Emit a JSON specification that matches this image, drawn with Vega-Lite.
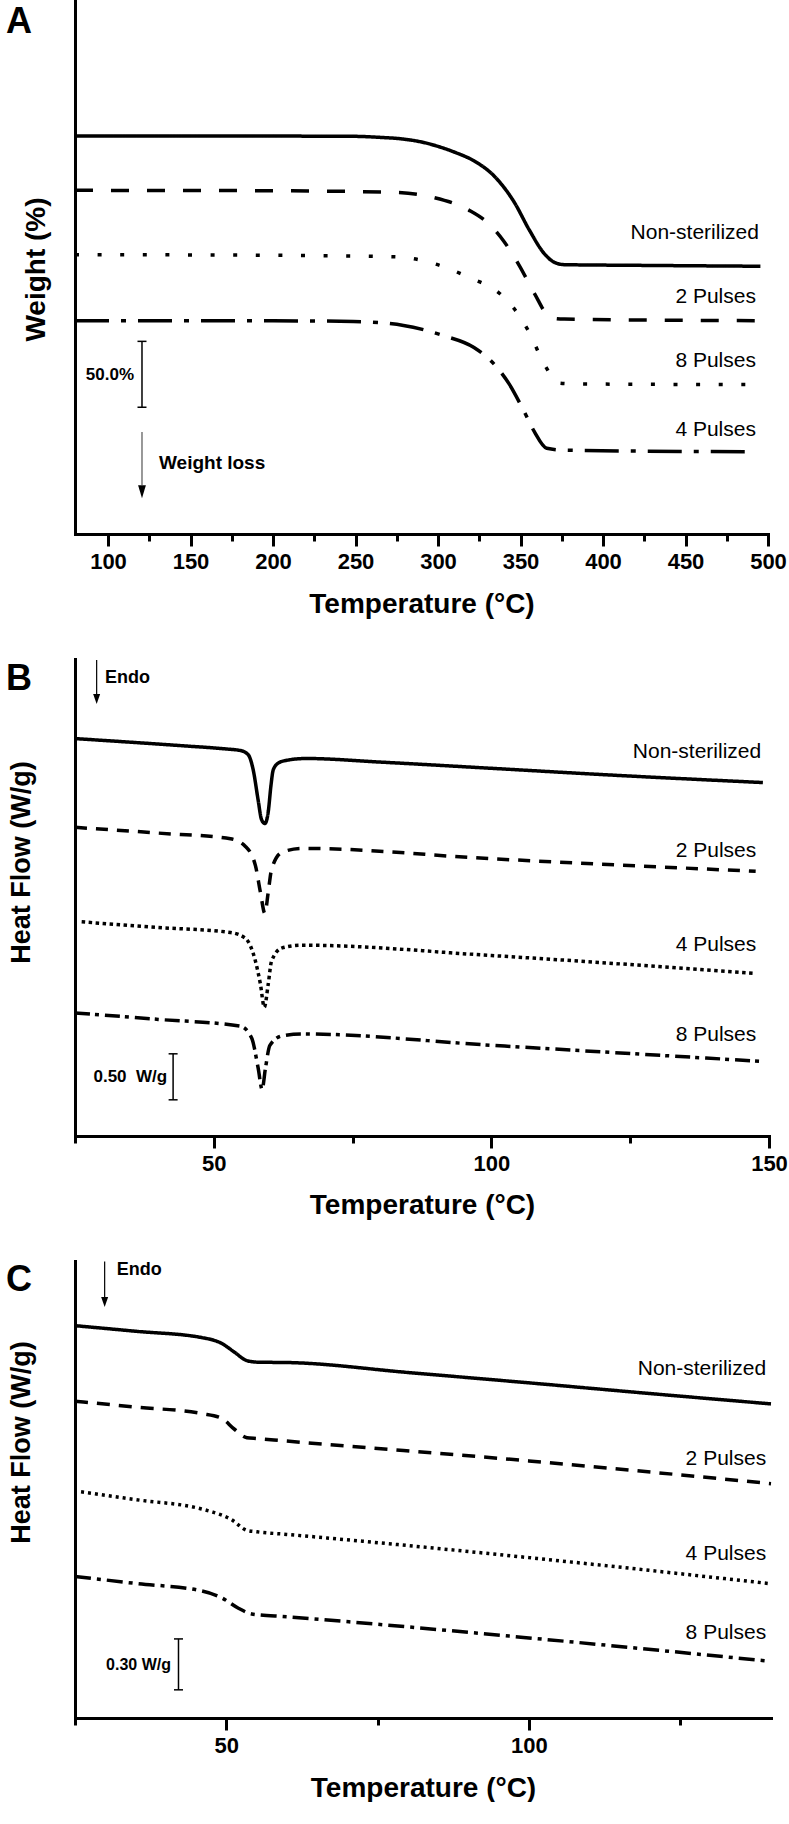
{
  "$schema": "https://vega.github.io/schema/vega-lite/v6.json",
  "padding": {"left": 6, "top": 1, "right": 0, "bottom": 0},
  "spacing": 41,
  "resolve": {"scale": {"strokeDash": "independent"}},
  "config": {
    "font": "Liberation Sans",
    "view": {"stroke": null},
    "axis": {"grid": false, "domainColor": "black", "tickColor": "black", "labelColor": "black", "titleColor": "black", "domainWidth": 3, "tickWidth": 3, "labelFontWeight": "bold", "labelFontSize": 22, "titleFontWeight": "bold", "titleFontSize": 28, "labelFlush": false, "labelOverlap": false, "labelBound": false, "domainCap": "square"}
  },
  "vconcat": [
    {
      "width": 693, "height": 533,
      "resolve": {"axis": {"x": "independent", "y": "independent"}},
      "layer": [
        {
          "data": {"values": [
            {"s": "Non-sterilized", "t": 80, "w": 302.1}, {"s": "Non-sterilized", "t": 150, "w": 302.1}, {"s": "Non-sterilized", "t": 200, "w": 302.0}, {"s": "Non-sterilized", "t": 248.7, "w": 301.8}, {"s": "Non-sterilized", "t": 265, "w": 301.0}, {"s": "Non-sterilized", "t": 279.1, "w": 299.7}, {"s": "Non-sterilized", "t": 290, "w": 297.5}, {"s": "Non-sterilized", "t": 300.4, "w": 294.0}, {"s": "Non-sterilized", "t": 311, "w": 289.3}, {"s": "Non-sterilized", "t": 321.8, "w": 283.2}, {"s": "Non-sterilized", "t": 334, "w": 271.7}, {"s": "Non-sterilized", "t": 346.2, "w": 251.8}, {"s": "Non-sterilized", "t": 355.3, "w": 230.8}, {"s": "Non-sterilized", "t": 364.4, "w": 212.8}, {"s": "Non-sterilized", "t": 370.5, "w": 206.2}, {"s": "Non-sterilized", "t": 376.6, "w": 204.4}, {"s": "Non-sterilized", "t": 420, "w": 203.9}, {"s": "Non-sterilized", "t": 495.4, "w": 203.2},
            {"s": "2 Pulses", "t": 80, "w": 260.8}, {"s": "2 Pulses", "t": 200, "w": 260.5}, {"s": "2 Pulses", "t": 273, "w": 259.3}, {"s": "2 Pulses", "t": 297.4, "w": 255.4}, {"s": "2 Pulses", "t": 318.7, "w": 245.8}, {"s": "2 Pulses", "t": 330.9, "w": 235.3}, {"s": "2 Pulses", "t": 340.1, "w": 221.8}, {"s": "2 Pulses", "t": 349.2, "w": 203.9}, {"s": "2 Pulses", "t": 358.3, "w": 182.9}, {"s": "2 Pulses", "t": 367.5, "w": 164.9}, {"s": "2 Pulses", "t": 372, "w": 163.4}, {"s": "2 Pulses", "t": 376.6, "w": 163.1}, {"s": "2 Pulses", "t": 495.4, "w": 161.9},
            {"s": "8 Pulses", "t": 80, "w": 212.0}, {"s": "8 Pulses", "t": 200, "w": 211.5}, {"s": "8 Pulses", "t": 273, "w": 210.4}, {"s": "8 Pulses", "t": 297.4, "w": 205.3}, {"s": "8 Pulses", "t": 318.7, "w": 194.8}, {"s": "8 Pulses", "t": 337, "w": 182.9}, {"s": "8 Pulses", "t": 346.2, "w": 170.9}, {"s": "8 Pulses", "t": 355.3, "w": 152.9}, {"s": "8 Pulses", "t": 364.4, "w": 128.9}, {"s": "8 Pulses", "t": 373.5, "w": 114.5}, {"s": "8 Pulses", "t": 382.7, "w": 113.9}, {"s": "8 Pulses", "t": 493.9, "w": 113.4},
            {"s": "4 Pulses", "t": 80, "w": 161.9}, {"s": "4 Pulses", "t": 200, "w": 161.8}, {"s": "4 Pulses", "t": 248.7, "w": 161.3}, {"s": "4 Pulses", "t": 279.1, "w": 158.3}, {"s": "4 Pulses", "t": 303.4, "w": 150.5}, {"s": "4 Pulses", "t": 321.8, "w": 141.5}, {"s": "4 Pulses", "t": 334, "w": 128.9}, {"s": "4 Pulses", "t": 343.1, "w": 113.9}, {"s": "4 Pulses", "t": 352.2, "w": 93.0}, {"s": "4 Pulses", "t": 358.3, "w": 77.9}, {"s": "4 Pulses", "t": 365.9, "w": 65.1}, {"s": "4 Pulses", "t": 376.6, "w": 63.6}, {"s": "4 Pulses", "t": 489.3, "w": 62.4}
          ]},
          "mark": {"type": "line", "interpolate": "monotone", "color": "black", "strokeWidth": 3.5},
          "encoding": {
            "x": {"field": "t", "type": "quantitative", "scale": {"domain": [80, 500], "nice": false, "zero": false},
                  "axis": {"orient": "bottom", "values": [100, 150, 200, 250, 300, 350, 400, 450, 500], "tickSize": 12, "labelPadding": 5, "title": "Temperature (°C)", "titlePadding": 18}},
            "y": {"field": "w", "type": "quantitative", "scale": {"domain": [0, 404.5], "nice": false, "zero": false},
                  "axis": {"orient": "left", "title": "Weight (%)", "ticks": false, "labels": false, "titleFontSize": 28, "titleX": -25, "titleY": 268, "titleAngle": 270, "titleAlign": "center", "titleBaseline": "bottom"}},
            "detail": {"field": "s"},
            "strokeDash": {"field": "s", "type": "nominal", "legend": null, "scale": {"domain": ["Non-sterilized", "2 Pulses", "8 Pulses", "4 Pulses"], "range": [[1, 0], [18, 18], [4, 18.6], [34, 12, 5, 12]]}}
          }
        },
        {
          "data": {"values": [
            {"label": "Non-sterilized", "t": 494.5, "w": 228.4},
            {"label": "2 Pulses", "t": 492.7, "w": 179.9},
            {"label": "8 Pulses", "t": 492.7, "w": 131.3},
            {"label": "4 Pulses", "t": 492.7, "w": 78.9}
          ]},
          "mark": {"type": "text", "align": "right", "baseline": "middle", "fontSize": 21, "color": "black"},
          "encoding": {
            "x": {"field": "t", "type": "quantitative", "axis": {"orient": "bottom", "values": [125, 175, 225, 275, 325, 375, 425, 475], "tickSize": 7, "labels": false, "domain": false, "title": null}},
            "y": {"field": "w", "type": "quantitative", "axis": null},
            "text": {"field": "label"}
          }
        },
        {
          "data": {"values": [{"label": "A", "t": 80, "w": 404.5}]},
          "mark": {"type": "text", "align": "left", "baseline": "alphabetic", "dx": -69, "dy": 32, "fontSize": 36, "fontWeight": "bold", "color": "black"},
          "encoding": {"x": {"field": "t", "type": "quantitative", "axis": null}, "y": {"field": "w", "type": "quantitative", "axis": null}, "text": {"field": "label"}}
        },
        {
          "data": {"values": [{"t": 120.6, "lo": 96.2, "hi": 146.2}]},
          "mark": {"type": "rule", "color": "black", "strokeWidth": 1.5},
          "encoding": {"x": {"field": "t", "type": "quantitative", "axis": null}, "y": {"field": "lo", "type": "quantitative", "axis": null}, "y2": {"field": "hi"}}
        },
        {
          "data": {"values": [{"t": 120.6, "w": 96.2}, {"t": 120.6, "w": 146.2}]},
          "mark": {"type": "tick", "orient": "horizontal", "size": 9, "thickness": 1.5, "color": "black", "opacity": 1},
          "encoding": {"x": {"field": "t", "type": "quantitative", "axis": null}, "y": {"field": "w", "type": "quantitative", "axis": null}}
        },
        {
          "data": {"values": [{"t": 120.6, "lo": 37.2, "hi": 77.4}]},
          "mark": {"type": "rule", "color": "#777777", "strokeWidth": 1.5},
          "encoding": {"x": {"field": "t", "type": "quantitative", "axis": null}, "y": {"field": "lo", "type": "quantitative", "axis": null}, "y2": {"field": "hi"}}
        },
        {
          "data": {"values": [{"t": 120.6, "w": 32.1}]},
          "mark": {"type": "point", "shape": "M-0.6,-1L0.6,-1L0,1Z", "filled": true, "color": "black", "opacity": 1, "size": 169},
          "encoding": {"x": {"field": "t", "type": "quantitative", "axis": null}, "y": {"field": "w", "type": "quantitative", "axis": null}}
        },
        {
          "data": {"values": [{"label": "50.0%", "t": 115.8, "w": 120.7}]},
          "mark": {"type": "text", "align": "right", "baseline": "middle", "fontSize": 17, "fontWeight": "bold", "color": "black"},
          "encoding": {"x": {"field": "t", "type": "quantitative", "axis": null}, "y": {"field": "w", "type": "quantitative", "axis": null}, "text": {"field": "label"}}
        },
        {
          "data": {"values": [{"label": "Weight loss", "t": 130.9, "w": 53.9}]},
          "mark": {"type": "text", "align": "left", "baseline": "middle", "fontSize": 19, "fontWeight": "bold", "color": "black"},
          "encoding": {"x": {"field": "t", "type": "quantitative", "axis": null}, "y": {"field": "w", "type": "quantitative", "axis": null}, "text": {"field": "label"}}
        }
      ]
    },
    {
      "width": 694, "height": 477,
      "resolve": {"axis": {"x": "independent", "y": "independent"}},
      "layer": [
        {
          "data": {"values": [
            {"s": "Non-sterilized", "t": 25, "h": 4.294}, {"s": "Non-sterilized", "t": 35, "h": 4.255}, {"s": "Non-sterilized", "t": 45, "h": 4.214}, {"s": "Non-sterilized", "t": 52, "h": 4.183}, {"s": "Non-sterilized", "t": 54.8, "h": 4.165}, {"s": "Non-sterilized", "t": 56.2, "h": 4.12}, {"s": "Non-sterilized", "t": 57.1, "h": 3.955}, {"s": "Non-sterilized", "t": 58.0, "h": 3.624}, {"s": "Non-sterilized", "t": 58.6, "h": 3.418}, {"s": "Non-sterilized", "t": 59.2, "h": 3.376}, {"s": "Non-sterilized", "t": 59.8, "h": 3.5}, {"s": "Non-sterilized", "t": 60.3, "h": 3.789}, {"s": "Non-sterilized", "t": 60.7, "h": 3.955}, {"s": "Non-sterilized", "t": 61.6, "h": 4.029}, {"s": "Non-sterilized", "t": 63, "h": 4.058}, {"s": "Non-sterilized", "t": 66.6, "h": 4.079}, {"s": "Non-sterilized", "t": 80, "h": 4.04}, {"s": "Non-sterilized", "t": 100, "h": 3.973}, {"s": "Non-sterilized", "t": 120, "h": 3.905}, {"s": "Non-sterilized", "t": 148.9, "h": 3.819},
            {"s": "2 Pulses", "t": 25, "h": 3.335}, {"s": "2 Pulses", "t": 40, "h": 3.273}, {"s": "2 Pulses", "t": 53, "h": 3.211}, {"s": "2 Pulses", "t": 55.7, "h": 3.129}, {"s": "2 Pulses", "t": 57.5, "h": 2.921}, {"s": "2 Pulses", "t": 58.4, "h": 2.633}, {"s": "2 Pulses", "t": 59.2, "h": 2.405}, {"s": "2 Pulses", "t": 59.8, "h": 2.633}, {"s": "2 Pulses", "t": 60.4, "h": 2.88}, {"s": "2 Pulses", "t": 62.3, "h": 3.066}, {"s": "2 Pulses", "t": 65.9, "h": 3.108}, {"s": "2 Pulses", "t": 100, "h": 2.996}, {"s": "2 Pulses", "t": 147.6, "h": 2.86},
            {"s": "4 Pulses", "t": 26.2, "h": 2.314}, {"s": "4 Pulses", "t": 40, "h": 2.253}, {"s": "4 Pulses", "t": 53, "h": 2.199}, {"s": "4 Pulses", "t": 55.7, "h": 2.136}, {"s": "4 Pulses", "t": 57.5, "h": 1.889}, {"s": "4 Pulses", "t": 58.4, "h": 1.64}, {"s": "4 Pulses", "t": 59.1, "h": 1.392}, {"s": "4 Pulses", "t": 59.8, "h": 1.64}, {"s": "4 Pulses", "t": 60.4, "h": 1.889}, {"s": "4 Pulses", "t": 62.3, "h": 2.033}, {"s": "4 Pulses", "t": 65.9, "h": 2.062}, {"s": "4 Pulses", "t": 100, "h": 1.95}, {"s": "4 Pulses", "t": 147.6, "h": 1.756},
            {"s": "8 Pulses", "t": 25, "h": 1.33}, {"s": "8 Pulses", "t": 40, "h": 1.26}, {"s": "8 Pulses", "t": 54.8, "h": 1.186}, {"s": "8 Pulses", "t": 56.8, "h": 1.062}, {"s": "8 Pulses", "t": 58.0, "h": 0.731}, {"s": "8 Pulses", "t": 58.7, "h": 0.504}, {"s": "8 Pulses", "t": 59.3, "h": 0.731}, {"s": "8 Pulses", "t": 60.1, "h": 0.979}, {"s": "8 Pulses", "t": 62.3, "h": 1.082}, {"s": "8 Pulses", "t": 65.9, "h": 1.103}, {"s": "8 Pulses", "t": 100, "h": 0.98}, {"s": "8 Pulses", "t": 148.9, "h": 0.806}
          ]},
          "mark": {"type": "line", "interpolate": "monotone", "color": "black", "strokeWidth": 3.5},
          "encoding": {
            "x": {"field": "t", "type": "quantitative", "scale": {"domain": [25, 150], "nice": false, "zero": false},
                  "axis": {"orient": "bottom", "values": [50, 100, 150], "tickSize": 12, "labelPadding": 5, "title": "Temperature (°C)", "titlePadding": 17}},
            "y": {"field": "h", "type": "quantitative", "scale": {"domain": [0, 5.154], "nice": false, "zero": false},
                  "axis": {"orient": "left", "title": "Heat Flow (W/g)", "ticks": false, "labels": false, "titleFontSize": 27, "titleX": -40, "titleY": 203, "titleAngle": 270, "titleAlign": "center", "titleBaseline": "bottom"}},
            "detail": {"field": "s"},
            "strokeDash": {"field": "s", "type": "nominal", "legend": null, "scale": {"domain": ["Non-sterilized", "2 Pulses", "4 Pulses", "8 Pulses"], "range": [[1, 0], [12, 9], [3.5, 3.5], [15, 5, 4, 6]]}}
          }
        },
        {
          "data": {"values": [
            {"label": "Non-sterilized", "t": 148.6, "h": 4.153},
            {"label": "2 Pulses", "t": 147.7, "h": 3.079},
            {"label": "4 Pulses", "t": 147.7, "h": 2.062},
            {"label": "8 Pulses", "t": 147.7, "h": 1.091}
          ]},
          "mark": {"type": "text", "align": "right", "baseline": "middle", "fontSize": 21, "color": "black"},
          "encoding": {
            "x": {"field": "t", "type": "quantitative", "axis": {"orient": "bottom", "values": [25, 75, 125], "tickSize": 7, "labels": false, "domain": false, "title": null}},
            "y": {"field": "h", "type": "quantitative", "axis": null},
            "text": {"field": "label"}
          }
        },
        {
          "data": {"values": [{"label": "B", "t": 25, "h": 5.154}]},
          "mark": {"type": "text", "align": "left", "baseline": "alphabetic", "dx": -69, "dy": 31, "fontSize": 36, "fontWeight": "bold", "color": "black"},
          "encoding": {"x": {"field": "t", "type": "quantitative", "axis": null}, "y": {"field": "h", "type": "quantitative", "axis": null}, "text": {"field": "label"}}
        },
        {
          "data": {"values": [{"t": 28.9, "lo": 4.776, "hi": 5.144}]},
          "mark": {"type": "rule", "color": "black", "strokeWidth": 1.2},
          "encoding": {"x": {"field": "t", "type": "quantitative", "axis": null}, "y": {"field": "lo", "type": "quantitative", "axis": null}, "y2": {"field": "hi"}}
        },
        {
          "data": {"values": [{"t": 28.9, "h": 4.722}]},
          "mark": {"type": "point", "shape": "M-0.7,-1L0.7,-1L0,1Z", "filled": true, "color": "black", "opacity": 1, "size": 100},
          "encoding": {"x": {"field": "t", "type": "quantitative", "axis": null}, "y": {"field": "h", "type": "quantitative", "axis": null}}
        },
        {
          "data": {"values": [{"label": "Endo", "t": 30.4, "h": 4.944}]},
          "mark": {"type": "text", "align": "left", "baseline": "middle", "fontSize": 18, "fontWeight": "bold", "color": "black"},
          "encoding": {"x": {"field": "t", "type": "quantitative", "axis": null}, "y": {"field": "h", "type": "quantitative", "axis": null}, "text": {"field": "label"}}
        },
        {
          "data": {"values": [{"t": 42.67, "lo": 0.391, "hi": 0.888}]},
          "mark": {"type": "rule", "color": "black", "strokeWidth": 1.5},
          "encoding": {"x": {"field": "t", "type": "quantitative", "axis": null}, "y": {"field": "lo", "type": "quantitative", "axis": null}, "y2": {"field": "hi"}}
        },
        {
          "data": {"values": [{"t": 42.67, "h": 0.391}, {"t": 42.67, "h": 0.888}]},
          "mark": {"type": "tick", "orient": "horizontal", "size": 9, "thickness": 1.5, "color": "black", "opacity": 1},
          "encoding": {"x": {"field": "t", "type": "quantitative", "axis": null}, "y": {"field": "h", "type": "quantitative", "axis": null}}
        },
        {
          "data": {"values": [{"label": "0.50\u00a0 W/g", "t": 41.6, "h": 0.633}]},
          "mark": {"type": "text", "align": "right", "baseline": "middle", "fontSize": 17, "fontWeight": "bold", "color": "black"},
          "encoding": {"x": {"field": "t", "type": "quantitative", "axis": null}, "y": {"field": "h", "type": "quantitative", "axis": null}, "text": {"field": "label"}}
        }
      ]
    },
    {
      "width": 696, "height": 457,
      "resolve": {"axis": {"x": "independent", "y": "independent"}},
      "layer": [
        {
          "data": {"values": [
            {"s": "Non-sterilized", "t": 25, "h": 2.312}, {"s": "Non-sterilized", "t": 35, "h": 2.279}, {"s": "Non-sterilized", "t": 45.9, "h": 2.242}, {"s": "Non-sterilized", "t": 49.2, "h": 2.208}, {"s": "Non-sterilized", "t": 51.3, "h": 2.157}, {"s": "Non-sterilized", "t": 53.4, "h": 2.106}, {"s": "Non-sterilized", "t": 55.1, "h": 2.097}, {"s": "Non-sterilized", "t": 60.9, "h": 2.094}, {"s": "Non-sterilized", "t": 80, "h": 2.036}, {"s": "Non-sterilized", "t": 100, "h": 1.975}, {"s": "Non-sterilized", "t": 120, "h": 1.912}, {"s": "Non-sterilized", "t": 140, "h": 1.851},
            {"s": "2 Pulses", "t": 25, "h": 1.867}, {"s": "2 Pulses", "t": 35, "h": 1.832}, {"s": "2 Pulses", "t": 45.9, "h": 1.794}, {"s": "2 Pulses", "t": 49.2, "h": 1.767}, {"s": "2 Pulses", "t": 51.3, "h": 1.703}, {"s": "2 Pulses", "t": 53.4, "h": 1.652}, {"s": "2 Pulses", "t": 55.1, "h": 1.647}, {"s": "2 Pulses", "t": 60, "h": 1.632}, {"s": "2 Pulses", "t": 100, "h": 1.515}, {"s": "2 Pulses", "t": 140, "h": 1.381},
            {"s": "4 Pulses", "t": 26, "h": 1.333}, {"s": "4 Pulses", "t": 35, "h": 1.287}, {"s": "4 Pulses", "t": 45.9, "h": 1.232}, {"s": "4 Pulses", "t": 47.6, "h": 1.215}, {"s": "4 Pulses", "t": 50.8, "h": 1.17}, {"s": "4 Pulses", "t": 53.4, "h": 1.106}, {"s": "4 Pulses", "t": 55.1, "h": 1.097}, {"s": "4 Pulses", "t": 60, "h": 1.082}, {"s": "4 Pulses", "t": 100, "h": 0.945}, {"s": "4 Pulses", "t": 140, "h": 0.791},
            {"s": "8 Pulses", "t": 25, "h": 0.834}, {"s": "8 Pulses", "t": 35, "h": 0.793}, {"s": "8 Pulses", "t": 45.9, "h": 0.749}, {"s": "8 Pulses", "t": 49.2, "h": 0.709}, {"s": "8 Pulses", "t": 52, "h": 0.647}, {"s": "8 Pulses", "t": 54.2, "h": 0.613}, {"s": "8 Pulses", "t": 60, "h": 0.597}, {"s": "8 Pulses", "t": 100, "h": 0.472}, {"s": "8 Pulses", "t": 139.4, "h": 0.336}
          ]},
          "mark": {"type": "line", "interpolate": "monotone", "color": "black", "strokeWidth": 3.5},
          "encoding": {
            "x": {"field": "t", "type": "quantitative", "scale": {"domain": [25, 140], "nice": false, "zero": false},
                  "axis": {"orient": "bottom", "values": [50, 100], "tickSize": 12, "labelPadding": 5, "title": "Temperature (°C)", "titlePadding": 18}},
            "y": {"field": "h", "type": "quantitative", "scale": {"domain": [0, 2.693], "nice": false, "zero": false},
                  "axis": {"orient": "left", "title": "Heat Flow (W/g)", "ticks": false, "labels": false, "titleFontSize": 27, "titleX": -40, "titleY": 181, "titleAngle": 270, "titleAlign": "center", "titleBaseline": "bottom"}},
            "detail": {"field": "s"},
            "strokeDash": {"field": "s", "type": "nominal", "legend": null, "scale": {"domain": ["Non-sterilized", "2 Pulses", "4 Pulses", "8 Pulses"], "range": [[1, 0], [13, 9], [3, 4], [16, 6, 4, 6]]}}
          }
        },
        {
          "data": {"values": [
            {"label": "Non-sterilized", "t": 139.2, "h": 2.056},
            {"label": "2 Pulses", "t": 139.2, "h": 1.528},
            {"label": "4 Pulses", "t": 139.2, "h": 0.965},
            {"label": "8 Pulses", "t": 139.2, "h": 0.499}
          ]},
          "mark": {"type": "text", "align": "right", "baseline": "middle", "fontSize": 21, "color": "black"},
          "encoding": {
            "x": {"field": "t", "type": "quantitative", "axis": {"orient": "bottom", "values": [25, 75, 125], "tickSize": 7, "labels": false, "domain": false, "title": null}},
            "y": {"field": "h", "type": "quantitative", "axis": null},
            "text": {"field": "label"}
          }
        },
        {
          "data": {"values": [{"label": "C", "t": 25, "h": 2.693}]},
          "mark": {"type": "text", "align": "left", "baseline": "alphabetic", "dx": -69, "dy": 30, "fontSize": 36, "fontWeight": "bold", "color": "black"},
          "encoding": {"x": {"field": "t", "type": "quantitative", "axis": null}, "y": {"field": "h", "type": "quantitative", "axis": null}, "text": {"field": "label"}}
        },
        {
          "data": {"values": [{"t": 29.9, "lo": 2.48, "hi": 2.69}]},
          "mark": {"type": "rule", "color": "black", "strokeWidth": 1.2},
          "encoding": {"x": {"field": "t", "type": "quantitative", "axis": null}, "y": {"field": "lo", "type": "quantitative", "axis": null}, "y2": {"field": "hi"}}
        },
        {
          "data": {"values": [{"t": 29.9, "h": 2.451}]},
          "mark": {"type": "point", "shape": "M-0.7,-1L0.7,-1L0,1Z", "filled": true, "color": "black", "opacity": 1, "size": 100},
          "encoding": {"x": {"field": "t", "type": "quantitative", "axis": null}, "y": {"field": "h", "type": "quantitative", "axis": null}}
        },
        {
          "data": {"values": [{"label": "Endo", "t": 31.9, "h": 2.64}]},
          "mark": {"type": "text", "align": "left", "baseline": "middle", "fontSize": 18, "fontWeight": "bold", "color": "black"},
          "encoding": {"x": {"field": "t", "type": "quantitative", "axis": null}, "y": {"field": "h", "type": "quantitative", "axis": null}, "text": {"field": "label"}}
        },
        {
          "data": {"values": [{"t": 42.1, "lo": 0.166, "hi": 0.466}]},
          "mark": {"type": "rule", "color": "black", "strokeWidth": 1.5},
          "encoding": {"x": {"field": "t", "type": "quantitative", "axis": null}, "y": {"field": "lo", "type": "quantitative", "axis": null}, "y2": {"field": "hi"}}
        },
        {
          "data": {"values": [{"t": 42.1, "h": 0.166}, {"t": 42.1, "h": 0.466}]},
          "mark": {"type": "tick", "orient": "horizontal", "size": 9, "thickness": 1.5, "color": "black", "opacity": 1},
          "encoding": {"x": {"field": "t", "type": "quantitative", "axis": null}, "y": {"field": "h", "type": "quantitative", "axis": null}}
        },
        {
          "data": {"values": [{"label": "0.30 W/g", "t": 40.86, "h": 0.311}]},
          "mark": {"type": "text", "align": "right", "baseline": "middle", "fontSize": 16, "fontWeight": "bold", "color": "black"},
          "encoding": {"x": {"field": "t", "type": "quantitative", "axis": null}, "y": {"field": "h", "type": "quantitative", "axis": null}, "text": {"field": "label"}}
        }
      ]
    }
  ]
}
